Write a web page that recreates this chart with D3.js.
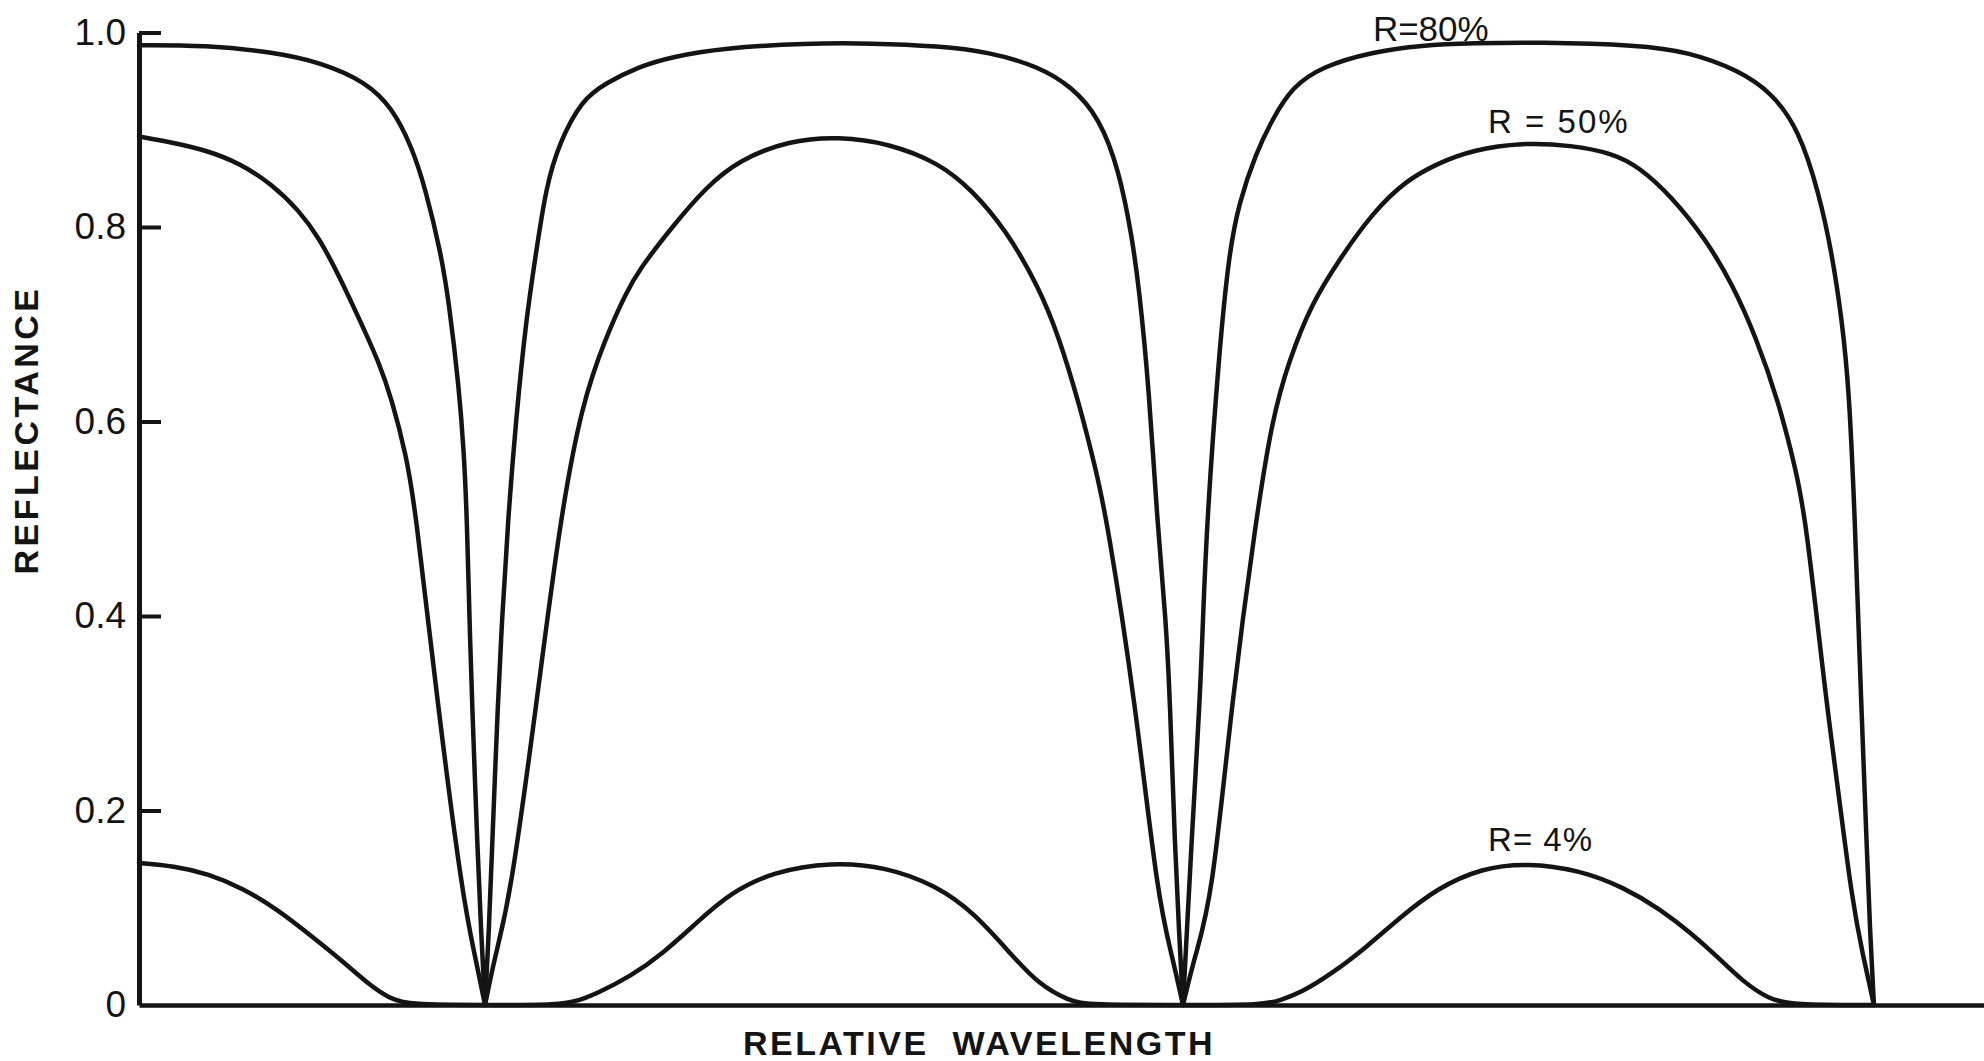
<!DOCTYPE html>
<html>
<head>
<meta charset="utf-8">
<script src="https://cdn.jsdelivr.net/npm/d3@7"></script>
<style>
  html, body { margin: 0; padding: 0; background: #fff; }
  svg { display: block; }
  .tick text { font-family: "Liberation Sans", Arial, sans-serif; }
</style>
</head>
<body>
<svg id="chart" width="1984" height="1061"></svg>
<script>
// Reflectance vs relative wavelength for three mirror reflectances.
// x is in units of one fringe period (minima at 0.5, 1.5, 2.5).

const curveNames = ["R=80%", "R=50%", "R=4%"];

const r80X = [0, 0.0965, 0.1916, 0.2637, 0.3271, 0.3646, 0.3934, 0.4121, 0.4352, 0.4467, 0.4611, 0.4683, 0.4726, 0.4762, 0.4798, 0.4878, 0.4928, 0.4986,
  0.5043, 0.5086, 0.5173, 0.5231, 0.5317, 0.5432, 0.5576, 0.5720, 0.5865, 0.6052, 0.6383, 0.6729, 0.7205, 0.7680, 0.8401, 0.9611, 1.0562, 1.1527, 1.2248, 1.2968, 1.3444, 1.3833, 1.4121, 1.4308, 1.4409, 1.4553, 1.4669, 1.4798, 1.4856, 1.4928, 1.4986, 1.5043,
  1.5101, 1.5159, 1.5288, 1.5331, 1.5389, 1.5562, 1.5706, 1.5850, 1.6095, 1.6326, 1.6614, 1.7046, 1.7767, 1.8487, 1.9207, 2.0173, 2.1614, 2.2334, 2.3055, 2.3530, 2.3919, 2.4207, 2.4395, 2.4539, 2.4640, 2.4726, 2.4813, 2.4899, 2.4942, 2.5000];
const r80Y = [0.987, 0.987, 0.980, 0.969, 0.949, 0.923, 0.882, 0.841, 0.773, 0.722, 0.635, 0.568, 0.499, 0.396, 0.314, 0.159, 0.077, 0,
  0.077, 0.159, 0.314, 0.396, 0.499, 0.602, 0.704, 0.773, 0.841, 0.886, 0.931, 0.948, 0.965, 0.975, 0.984, 0.989, 0.989, 0.986, 0.980, 0.965, 0.944, 0.913, 0.859, 0.790, 0.738, 0.635, 0.499, 0.396, 0.314, 0.159, 0.077, 0,
  0.077, 0.159, 0.314, 0.396, 0.499, 0.670, 0.773, 0.825, 0.876, 0.910, 0.944, 0.965, 0.980, 0.987, 0.989, 0.990, 0.987, 0.980, 0.961, 0.938, 0.900, 0.835, 0.773, 0.704, 0.635, 0.499, 0.314, 0.159, 0.077, 0];

const r50X = [0, 0.0476, 0.0965, 0.1441, 0.1916, 0.2305, 0.2594, 0.2882, 0.3170, 0.3458, 0.3646, 0.3847, 0.3977, 0.4294, 0.4669, 0.4841, 0.4986,
  0.5130, 0.5346, 0.5735, 0.6066, 0.6383, 0.6729, 0.7017, 0.7205, 0.7680, 0.8170, 0.8646, 0.9366, 1.0086, 1.0807, 1.1527, 1.2003, 1.2493, 1.2968, 1.3256, 1.3545, 1.3790, 1.3948, 1.4352, 1.4683, 1.4885, 1.5043,
  1.5216, 1.5461, 1.5749, 1.6095, 1.6326, 1.6571, 1.6902, 1.7291, 1.7767, 1.8256, 1.8732, 1.9207, 1.9928, 2.0648, 2.1225, 2.1614, 2.2089, 2.2579, 2.2954, 2.3300, 2.3631, 2.3876, 2.4020, 2.4308, 2.4467, 2.4683, 2.4841, 2.5000];
const r50Y = [0.893, 0.887, 0.879, 0.866, 0.844, 0.817, 0.789, 0.750, 0.706, 0.661, 0.622, 0.566, 0.514, 0.314, 0.108, 0.051, 0,
  0.051, 0.108, 0.314, 0.499, 0.619, 0.687, 0.732, 0.756, 0.800, 0.841, 0.869, 0.889, 0.893, 0.886, 0.866, 0.838, 0.797, 0.738, 0.687, 0.619, 0.550, 0.499, 0.314, 0.108, 0.051, 0,
  0.051, 0.108, 0.314, 0.499, 0.602, 0.663, 0.722, 0.766, 0.814, 0.848, 0.866, 0.879, 0.887, 0.884, 0.876, 0.862, 0.831, 0.787, 0.742, 0.687, 0.619, 0.550, 0.499, 0.314, 0.231, 0.108, 0.051, 0];

const r4X = [0, 0.05, 0.10, 0.15, 0.20, 0.25, 0.30, 0.33, 0.36, 0.39, 0.4986, 0.6066, 0.6354, 0.6599, 0.7075, 0.7550, 0.8040, 0.8516, 0.9135, 0.9971,
  1.0764, 1.1484, 1.2032, 1.2579, 1.2954, 1.3401, 1.3703, 1.5043, 1.6225, 1.6441, 1.6729, 1.7205, 1.7695, 1.8170, 1.8703, 1.9352, 2.0000,
  2.0749, 2.1398, 2.1931, 2.2363, 2.2738, 2.3112, 2.3487, 2.3818, 2.5000];
const r4Y = [0.146, 0.143, 0.135, 0.120, 0.098, 0.070, 0.041, 0.022, 0.007, 0, 0, 0, 0.005, 0.012, 0.029, 0.053, 0.085, 0.115, 0.137, 0.147,
  0.142, 0.123, 0.095, 0.051, 0.022, 0.004, 0, 0, 0, 0.005, 0.012, 0.033, 0.060, 0.090, 0.120, 0.141, 0.146,
  0.139, 0.121, 0.098, 0.074, 0.050, 0.024, 0.006, 0, 0];

const yTickValues = [0, 0.2, 0.4, 0.6, 0.8, 1.0];
const yTickLabels = ["0", "0.2", "0.4", "0.6", "0.8", "1.0"];

const svg = d3.select("#chart");
const ink = "#141414";

const x = d3.scaleLinear().domain([0, 2.66]).range([139, 1985]);
const y = d3.scaleLinear().domain([0, 1]).range([1005, 32.5]);

const line = d3.line()
  .x(d => x(d[0]))
  .y(d => y(d[1]))
  .curve(d3.curveBasis);

// Split a curve into arches at its zero-reflectance minima so each
// minimum stays a sharp point.
function arches(xs, ys) {
  const pts = d3.zip(xs, ys);
  const out = [];
  let cur = [];
  pts.forEach((p, i) => {
    cur.push(p);
    if (p[1] === 0 && i > 0) { out.push(cur); cur = [p]; }
  });
  if (cur.length > 1) out.push(cur);
  return out;
}

const paths = [
  ...arches(r80X, r80Y),
  ...arches(r50X, r50Y),
  d3.zip(r4X, r4Y)
];

svg.append("g")
  .selectAll("path")
  .data(paths)
  .join("path")
  .attr("d", line)
  .attr("fill", "none")
  .attr("stroke", ink)
  .attr("stroke-width", 4.5)
  .attr("stroke-linejoin", "round")
  .attr("stroke-linecap", "round");

// x axis: a plain baseline, no ticks
const xAxis = svg.append("g")
  .attr("transform", `translate(0,${y(0)})`)
  .call(d3.axisBottom(x).tickValues([]).tickSizeOuter(0));
xAxis.select(".domain").attr("stroke", ink).attr("stroke-width", 4.5);

// y axis with ticks pointing into the plot
const yAxis = svg.append("g")
  .attr("transform", `translate(${x(0)},0)`)
  .call(d3.axisLeft(y)
    .tickValues(yTickValues)
    .tickFormat((d, i) => yTickLabels[i])
    .tickSizeInner(-22)
    .tickSizeOuter(0)
    .tickPadding(13));
yAxis.select(".domain").attr("stroke", ink).attr("stroke-width", 5);
yAxis.selectAll(".tick line").attr("stroke", ink).attr("stroke-width", 4);
yAxis.selectAll(".tick").filter(d => d === 0).select("line").remove();
yAxis.selectAll(".tick text")
  .attr("fill", ink)
  .style("font-size", "37px");

// axis titles
svg.append("text")
  .attr("x", 979)
  .attr("y", 1055)
  .attr("text-anchor", "middle")
  .style("font-family", "'Liberation Sans', Arial, sans-serif")
  .style("font-weight", "bold")
  .style("font-size", "34px")
  .style("letter-spacing", "2.5px")
  .style("word-spacing", "12px")
  .attr("fill", ink)
  .text("RELATIVE WAVELENGTH");

svg.append("text")
  .attr("transform", "translate(38,430) rotate(-90)")
  .attr("text-anchor", "middle")
  .style("font-family", "'Liberation Sans', Arial, sans-serif")
  .style("font-weight", "bold")
  .style("font-size", "34px")
  .style("letter-spacing", "3.5px")
  .attr("fill", ink)
  .text("REFLECTANCE");

// curve labels
const labelPos = [[1.778, 0.991, 35, 0], [1.944, 0.897, 33, 2], [1.944, 0.158, 33, 1]];
const labelText = ["R=80%", "R = 50%", "R= 4%"];
svg.append("g")
  .selectAll("text")
  .data(labelPos)
  .join("text")
  .attr("x", d => x(d[0]))
  .attr("y", d => y(d[1]))
  .style("font-family", "'Liberation Sans', Arial, sans-serif")
  .style("font-size", d => d[2] + "px")
  .style("letter-spacing", d => d[3] + "px")
  .attr("fill", ink)
  .text((d, i) => labelText[i]);
</script>
</body>
</html>
